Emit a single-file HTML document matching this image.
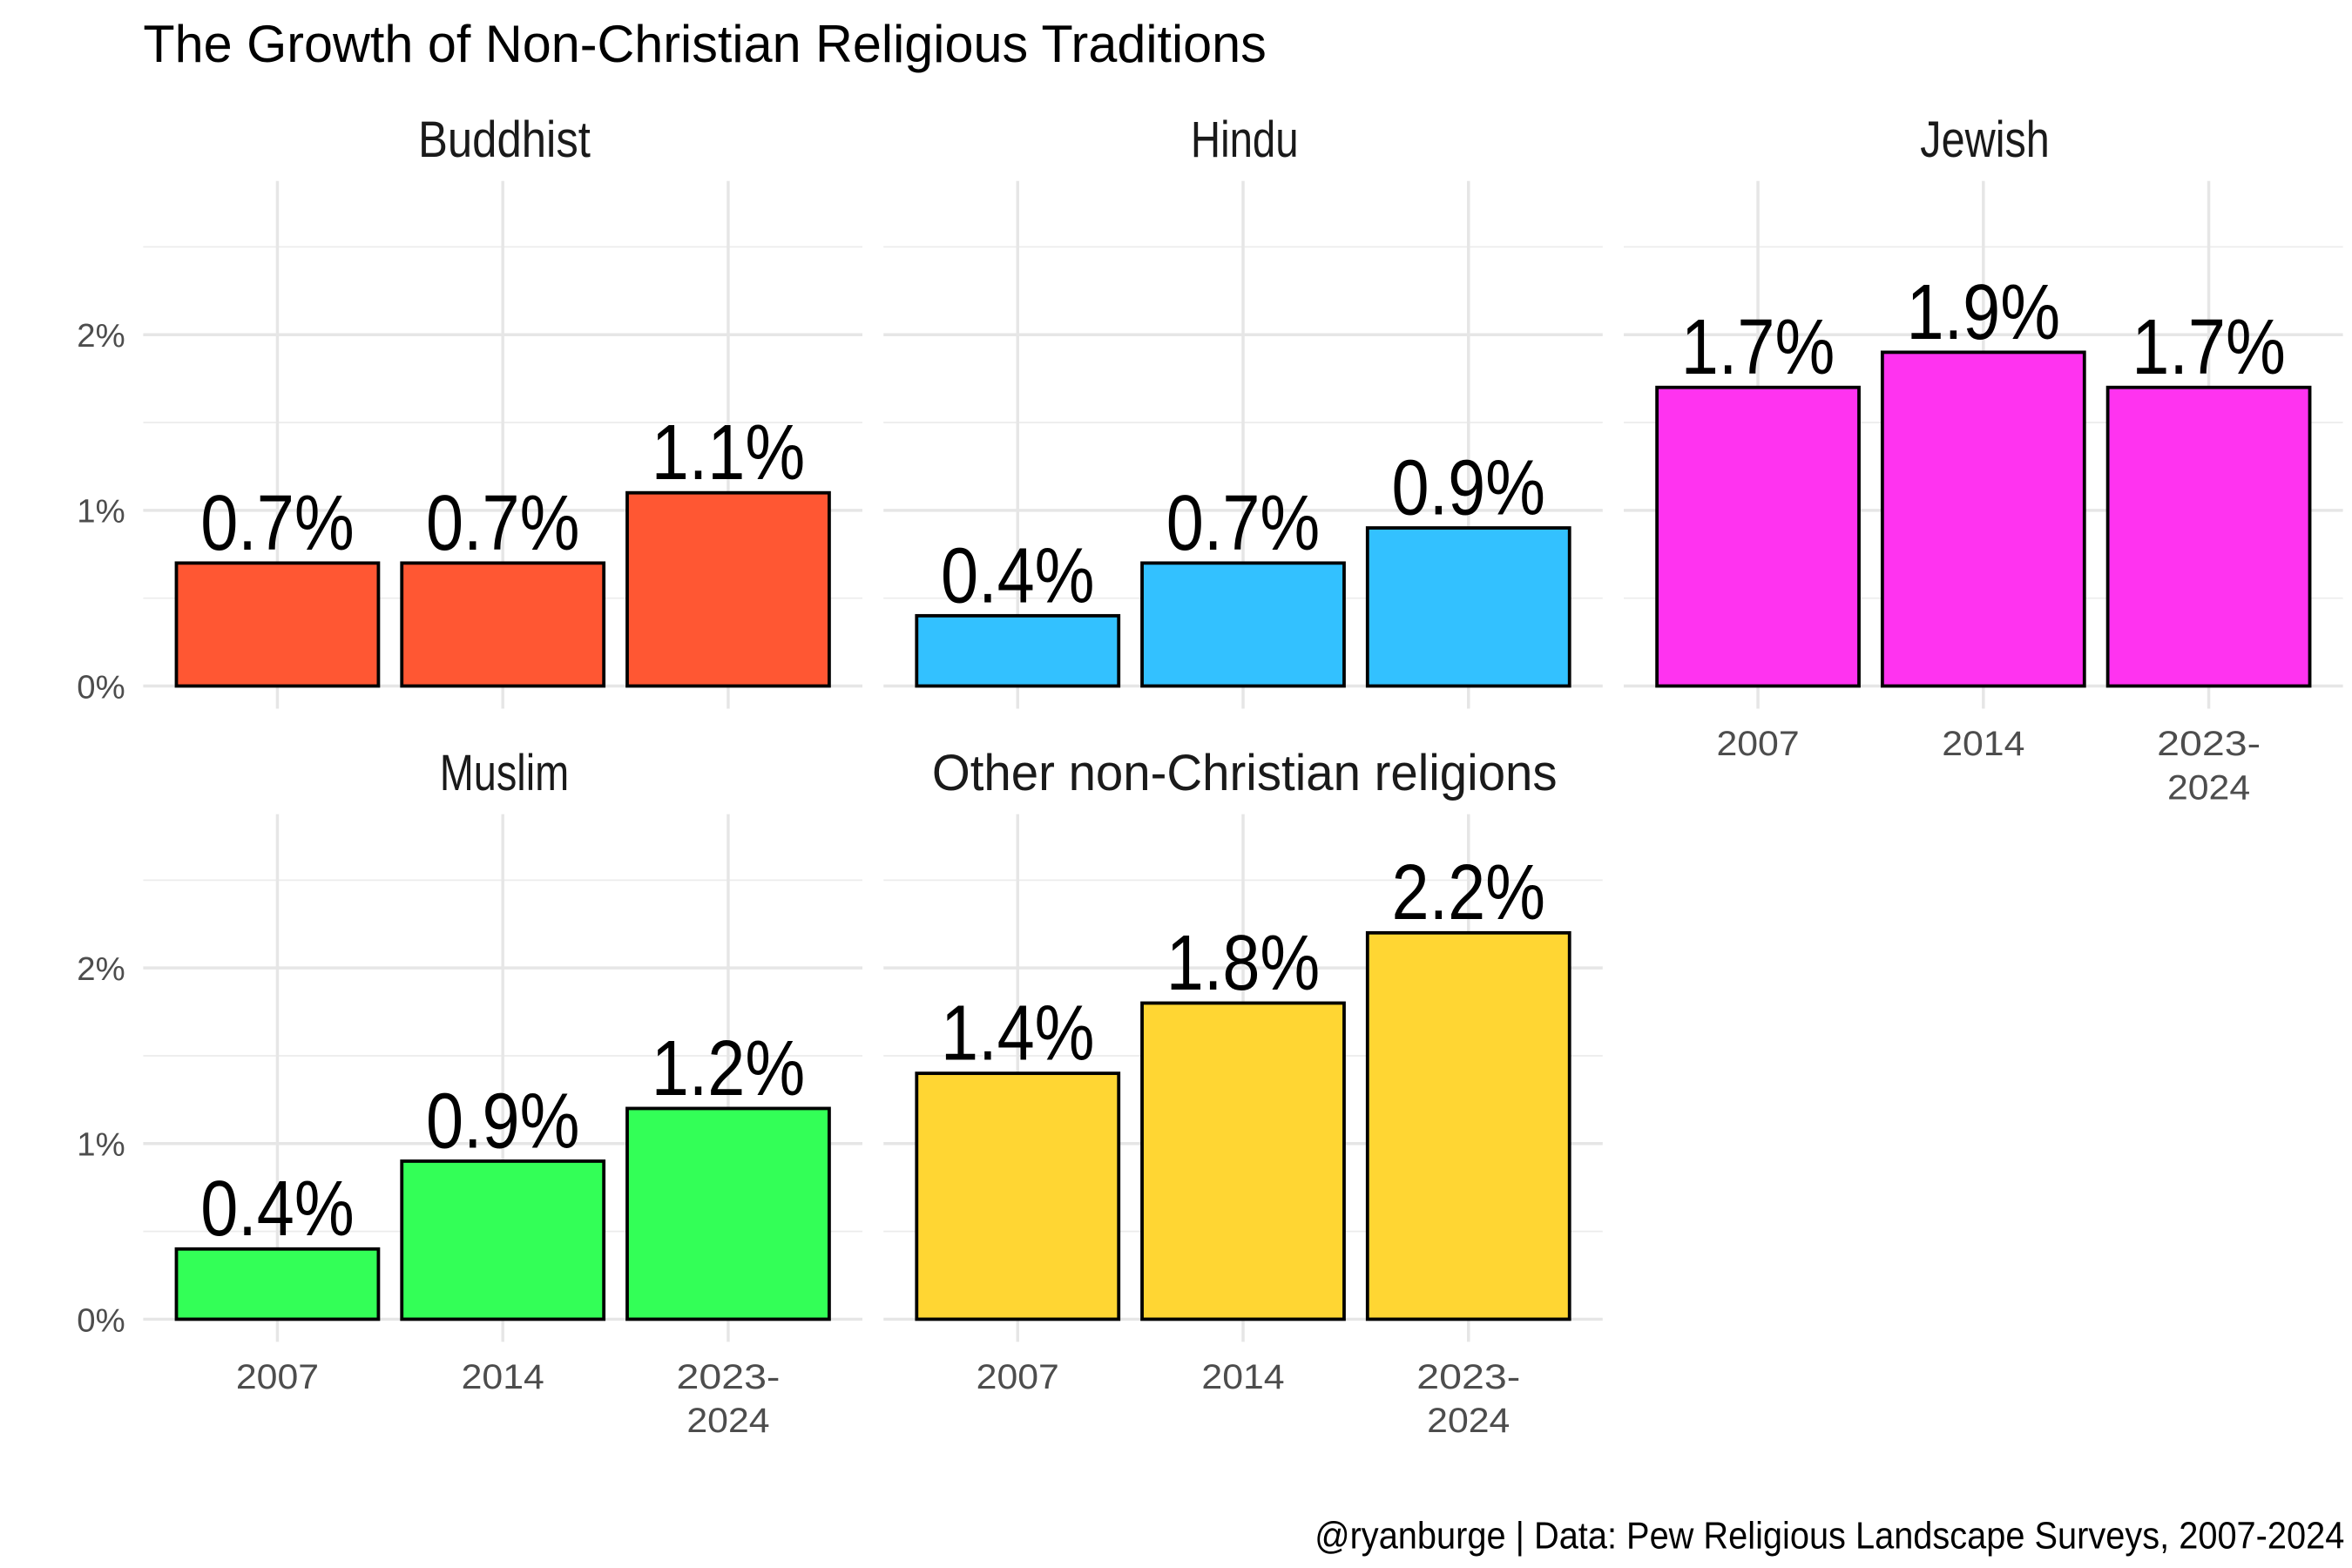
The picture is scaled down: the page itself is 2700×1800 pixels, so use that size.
<!DOCTYPE html>
<html><head><meta charset="utf-8">
<style>
html,body{margin:0;padding:0;background:#fff;}
svg{display:block;}
text{font-family:"Liberation Sans Narrow","Liberation Sans",sans-serif;}
</style></head>
<body>
<svg id="chart" width="2700" height="1800" viewBox="0 0 1560 1040" xmlns="http://www.w3.org/2000/svg">
<rect width="1560" height="1040" fill="#fff"/>
<text x="95" y="41" font-size="35" fill="#000" textLength="745" lengthAdjust="spacingAndGlyphs">The Growth of Non-Christian Religious Traditions</text>
<text x="1555" y="1027" font-size="25" fill="#000" text-anchor="end" textLength="683" lengthAdjust="spacingAndGlyphs">@ryanburge | Data: Pew Religious Landscape Surveys, 2007-2024</text>
<g id="panels"></g>
</svg>
<script>
const categories = ["2007", "2014", "2023-2024"];
const panelNames = ["Buddhist", "Hindu", "Jewish", "Muslim", "Other non-Christian religions"];
const buddhist = [0.7, 0.7, 1.1];
const hindu = [0.4, 0.7, 0.9];
const jewish = [1.7, 1.9, 1.7];
const muslim = [0.4, 0.9, 1.2];
const other = [1.4, 1.8, 2.2];
const colors = ["#FF5733", "#33C1FF", "#FF33F0", "#33FF57", "#FFD633"];
const yTicks = [0, 1, 2];
const yTickLabels = ["0%", "1%", "2%"];

const seriesList = [buddhist, hindu, jewish, muslim, other];
const NS = "http://www.w3.org/2000/svg";
const root = document.getElementById("panels");
const layout = [
  {left: 95, zero: 455, row: 0, col: 0},
  {left: 586, zero: 455, row: 0, col: 1},
  {left: 1077, zero: 455, row: 0, col: 2},
  {left: 95, zero: 875, row: 1, col: 0},
  {left: 586, zero: 875, row: 1, col: 1}
];
const panelW = 477, pxPerUnit = 116.5, barW = 134;
function mk(tag, attrs, parent) {
  const e = document.createElementNS(NS, tag);
  for (const k in attrs) e.setAttribute(k, attrs[k]);
  parent.appendChild(e);
  return e;
}
layout.forEach((p, pi) => {
  const g = mk("g", {}, root);
  
  
  const yS = v => p.zero - v * pxPerUnit;
  const xS = i => p.left + 89 + i * 149.5;
  const top = p.zero - 335, bottom = p.zero + 15;
  for (let v = 0.5; v <= 2.5; v += 1) {
    mk("line", {x1: p.left, x2: p.left + panelW, y1: yS(v), y2: yS(v), stroke: "#ececec", "stroke-width": 1}, g);
  }
  yTicks.forEach((t, ti) => {
    const l = mk("line", {x1: p.left, x2: p.left + panelW, y1: yS(t), y2: yS(t), stroke: "#e6e6e6", "stroke-width": 2}, g);
    
    
    if (p.col === 0) {
      const tx = mk("text", {x: 83, y: yS(t) + 8, "font-size": 22, fill: "#4d4d4d", "text-anchor": "end", textLength: 32, lengthAdjust: "spacingAndGlyphs"}, g);
      tx.textContent = yTickLabels[ti];
      
      
    }
  });
  categories.forEach((c, i) => {
    const l = mk("line", {x1: xS(i), x2: xS(i), y1: top, y2: bottom, stroke: "#e6e6e6", "stroke-width": 2}, g);
    
    
  });
  const series = seriesList[pi];
  series.forEach((v, i) => {
    const r = mk("rect", {x: xS(i) - barW / 2, y: yS(v), width: barW, height: v * pxPerUnit, fill: colors[pi], stroke: "#000", "stroke-width": 2.2}, g);
    
    
    const lab = v.toFixed(1) + "%";
    const t = mk("text", {x: xS(i), y: yS(v) - 9, "font-size": 52, fill: "#000", "text-anchor": "middle", textLength: 25.5 * lab.length, lengthAdjust: "spacingAndGlyphs"}, g);
    t.textContent = lab;
    
    
  });
  const st = mk("text", {x: p.left + panelW / 2 + 1, y: top - 16, "font-size": 34, fill: "#1a1a1a", "text-anchor": "middle", textLength: panelNames[pi].length * 14.3, lengthAdjust: "spacingAndGlyphs"}, g);
  st.textContent = panelNames[pi];
  
  
  if (p.row === 1 || p.col === 2) {
    categories.forEach((c, i) => {
      const parts = c.indexOf("-") > 0 ? [c.split("-")[0] + "-", c.split("-")[1]] : [c];
      parts.forEach((s, k) => {
        const t = mk("text", {x: xS(i), y: p.zero + 46 + k * 29, "font-size": 23, fill: "#4d4d4d", "text-anchor": "middle", textLength: s.length * 13.75, lengthAdjust: "spacingAndGlyphs"}, g);
        t.textContent = s;
        
        
      });
    });
  }
});
</script>
</body></html>
